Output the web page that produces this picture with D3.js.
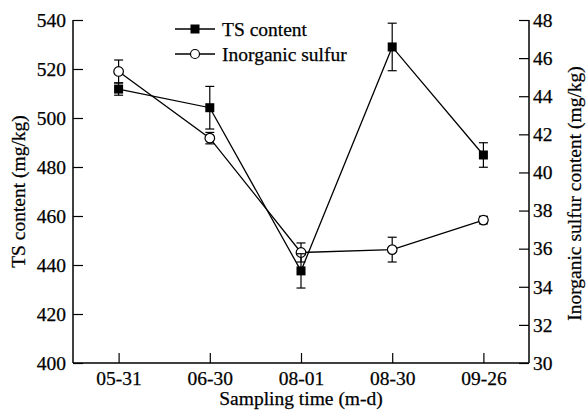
<!DOCTYPE html>
<html>
<head>
<meta charset="utf-8">
<script src="https://cdn.jsdelivr.net/npm/d3@7"></script>
<style>
  body { margin: 0; background: #fff; }
  text { font-family: "Liberation Serif", "Times New Roman", serif; fill: #000; stroke: #000; stroke-width: 0.25px; }
</style>
</head>
<body>
<div id="chart"></div>
<script>
// sampling dates
const dates = ["05-31", "06-30", "08-01", "08-30", "09-26"];
// TS content (mg/kg), left axis
const tsValues = [511.8, 504.2, 437.6, 529, 484.9];
const tsErrors = [2.5, 8.7, 7, 9.7, 5];
// inorganic sulfur content (mg/kg), right axis
const inorgValues = [45.3, 41.8, 35.8, 35.95, 37.5];
const inorgErrors = [0.6, 0.3, 0.5, 0.65, 0.2];
const leftTicks = [400, 420, 440, 460, 480, 500, 520, 540];
const rightTicks = [30, 32, 34, 36, 38, 40, 42, 44, 46, 48];

const width = 587, height = 410;
const margin = { left: 73, right: 58, top: 20, bottom: 47 };

const svg = d3.select("#chart").append("svg")
  .attr("width", width)
  .attr("height", height);

const x = d3.scalePoint()
  .domain(dates)
  .range([margin.left, width - margin.right])
  .padding(0.5);
const yL = d3.scaleLinear().domain([400, 540]).range([height - margin.bottom, margin.top]);
const yR = d3.scaleLinear().domain([30, 48]).range([height - margin.bottom, margin.top]);

const fontSize = 19.5;

// left axis
const gL = svg.append("g")
  .attr("transform", `translate(${margin.left},0)`)
  .call(d3.axisLeft(yL).tickValues(leftTicks).tickSize(-10).tickPadding(7));
// right axis
const gR = svg.append("g")
  .attr("transform", `translate(${width - margin.right},0)`)
  .call(d3.axisRight(yR).tickValues(rightTicks).tickSize(-10).tickPadding(4));
// bottom axis
const gB = svg.append("g")
  .attr("transform", `translate(0,${height - margin.bottom})`)
  .call(d3.axisBottom(x).tickSize(-10).tickPadding(8));

[gL, gR, gB].forEach((g) => {
  g.select(".domain").remove();
  g.selectAll(".tick line").attr("stroke", "#000").attr("stroke-width", 1.2);
  g.selectAll(".tick text").style("font-size", fontSize + "px")
    .attr("font-family", "Liberation Serif");
});
// plain axis lines without end ticks
svg.append("line")
  .attr("x1", margin.left).attr("x2", margin.left)
  .attr("y1", margin.top).attr("y2", height - margin.bottom)
  .attr("stroke", "#000").attr("stroke-width", 1.5);
svg.append("line")
  .attr("x1", width - margin.right).attr("x2", width - margin.right)
  .attr("y1", margin.top).attr("y2", height - margin.bottom)
  .attr("stroke", "#000").attr("stroke-width", 1.5);
svg.append("line")
  .attr("x1", margin.left).attr("x2", width - margin.right)
  .attr("y1", height - margin.bottom).attr("y2", height - margin.bottom)
  .attr("stroke", "#000").attr("stroke-width", 1.5);

// axis titles
svg.append("text")
  .attr("transform", `translate(18,${(margin.top + height - margin.bottom) / 2}) rotate(-90)`)
  .attr("text-anchor", "middle")
  .attr("dominant-baseline", "central")
  .style("font-size", fontSize + "px")
  .text("TS content (mg/kg)");
svg.append("text")
  .attr("transform", `translate(574,${(margin.top + height - margin.bottom) / 2 + 2}) rotate(-90)`)
  .attr("text-anchor", "middle")
  .attr("dominant-baseline", "central")
  .style("font-size", fontSize + "px")
  .text("Inorganic sulfur content (mg/kg)");
svg.append("text")
  .attr("x", (margin.left + width - margin.right) / 2)
  .attr("y", 405)
  .attr("text-anchor", "middle")
  .style("font-size", fontSize + "px")
  .text("Sampling time (m-d)");

function drawSeries(values, errors, y, marker) {
  const g = svg.append("g");
  const line = d3.line().x((d, i) => x(dates[i])).y((d) => y(d));
  g.append("path")
    .datum(values)
    .attr("d", line)
    .attr("fill", "none")
    .attr("stroke", "#000")
    .attr("stroke-width", 1.3);
  const eb = g.selectAll("g.err")
    .data(values)
    .enter()
    .append("g");
  eb.append("line")
    .attr("x1", (d, i) => x(dates[i]))
    .attr("x2", (d, i) => x(dates[i]))
    .attr("y1", (d, i) => y(d - errors[i]))
    .attr("y2", (d, i) => y(d + errors[i]))
    .attr("stroke", "#000").attr("stroke-width", 1.2);
  [-1, 1].forEach((s) => {
    eb.append("line")
      .attr("x1", (d, i) => x(dates[i]) - 4.5)
      .attr("x2", (d, i) => x(dates[i]) + 4.5)
      .attr("y1", (d, i) => y(d + s * errors[i]))
      .attr("y2", (d, i) => y(d + s * errors[i]))
      .attr("stroke", "#000").attr("stroke-width", 1.2);
  });
  if (marker === "square") {
    g.selectAll("rect")
      .data(values)
      .enter()
      .append("rect")
      .attr("x", (d, i) => x(dates[i]) - 4.5)
      .attr("y", (d) => y(d) - 4.5)
      .attr("width", 9).attr("height", 9)
      .attr("fill", "#000");
  } else {
    g.selectAll("circle")
      .data(values)
      .enter()
      .append("circle")
      .attr("cx", (d, i) => x(dates[i]))
      .attr("cy", (d) => y(d))
      .attr("r", 4.8)
      .attr("fill", "#fff")
      .attr("stroke", "#000")
      .attr("stroke-width", 1.2);
  }
}

drawSeries(inorgValues, inorgErrors, yR, "circle");
drawSeries(tsValues, tsErrors, yL, "square");

// legend
const legendItems = [
  { name: "TS content", marker: "square", y: 29 },
  { name: "Inorganic sulfur", marker: "circle", y: 54 },
];
const lg = svg.append("g");
legendItems.forEach((it) => {
  lg.append("line")
    .attr("x1", 175).attr("x2", 215)
    .attr("y1", it.y).attr("y2", it.y)
    .attr("stroke", "#000").attr("stroke-width", 1.3);
  if (it.marker === "square") {
    lg.append("rect")
      .attr("x", 190.5).attr("y", it.y - 4.5)
      .attr("width", 9).attr("height", 9)
      .attr("fill", "#000");
  } else {
    lg.append("circle")
      .attr("cx", 195).attr("cy", it.y).attr("r", 4.5)
      .attr("fill", "#fff").attr("stroke", "#000").attr("stroke-width", 1.2);
  }
  lg.append("text")
    .attr("x", 222).attr("y", it.y)
    .attr("dominant-baseline", "central")
    .style("font-size", fontSize + "px")
    .text(it.name);
});
</script>
</body>
</html>
